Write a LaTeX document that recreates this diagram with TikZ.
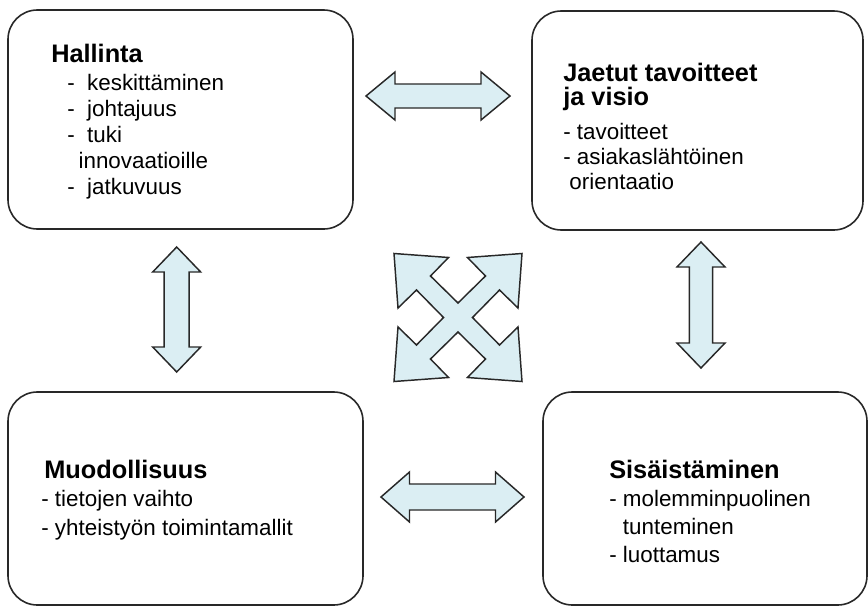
\documentclass[tikz,border=0pt]{standalone}
\usepackage{fontspec}
\setmainfont{Liberation Sans}
\definecolor{arrfill}{RGB}{219,238,243}
\definecolor{edge}{RGB}{40,40,40}
\newcommand\hd{\fontsize{19}{19}\selectfont\bfseries}
\tikzset{
  roundbox/.style={draw=edge, line width=1.2pt, rounded corners=22pt, inner sep=0pt},
  txt/.style={anchor=base west, inner sep=0pt, text=black, font=\fontsize{16.8}{20}\selectfont},
  blockarrow/.style={draw=edge, fill=arrfill, line width=1.1pt, line join=miter},
  pics/dbl/.style n args={4}{code={
    \draw[blockarrow] (-#1,0) -- ({-#1+#2},#3) -- ({-#1+#2},#4) -- ({#1-#2},#4) -- ({#1-#2},#3)
      -- (#1,0) -- ({#1-#2},-#3) -- ({#1-#2},-#4) -- ({-#1+#2},-#4) -- ({-#1+#2},-#3) -- cycle;
  }},
  pics/cross/.style={code={
    \draw[blockarrow] (0,-14.5) -- (-27.5,-41.5) -- (-9.5,-60) -- (-64,-64) -- (-60,-9.5) -- (-41.5,-27.5)
      -- (-14.5,0) -- (-41.5,27.5) -- (-60,9.5) -- (-64,64) -- (-9.5,60) -- (-27.5,41.5)
      -- (0,14.5) -- (27.5,41.5) -- (9.5,60) -- (64,64) -- (60,9.5) -- (41.5,27.5)
      -- (14.5,0) -- (41.5,-27.5) -- (60,-9.5) -- (64,-64) -- (9.5,-60) -- (27.5,-41.5) -- cycle;
  }}
}
\begin{document}
\begin{tikzpicture}[x=0.75pt,y=-0.75pt]
\useasboundingbox (0,0) rectangle (868,607);
% boxes
\node[roundbox, minimum width=258.75pt, minimum height=164.25pt] (hal) at (180.5,119.5) {};
\node[roundbox, minimum width=248.25pt, minimum height=164.25pt] (jae) at (697.5,120.5) {};
\node[roundbox, minimum width=266.25pt, minimum height=159.75pt] (muo) at (185.5,498.5) {};
\node[roundbox, minimum width=243pt, minimum height=159.75pt] (sis) at (705,498.5) {};
% texts
\node[txt] (halt) at (51,62) {\vtop{\baselineskip=19.5pt
  \hbox{\hd Hallinta}\vskip 1.9pt
  \hbox{\hspace*{12pt}-\ \ keskittäminen}
  \hbox{\hspace*{12pt}-\ \ johtajuus}
  \hbox{\hspace*{12pt}-\ \ tuki}
  \hbox{\hspace*{20.5pt}innovaatioille}
  \hbox{\hspace*{12pt}-\ \ jatkuvuus}}};
\node[txt] (jaet) at (563,81) {\vtop{\baselineskip=18.75pt
  \hbox{\hd Jaetut tavoitteet}\vskip -0.5pt
  \hbox{\hd ja visio}\vskip 7.2pt
  \hbox{- tavoitteet}
  \hbox{- asiakaslähtöinen}
  \hbox{\ orientaatio}}};
\node[txt] (muot) at (44,478) {\vtop{\baselineskip=20.6pt
  \hbox{\hd Muodollisuus}\vskip 1pt
  \hbox{\hspace*{-2.2pt}- tietojen vaihto}\vskip 1pt
  \hbox{\hspace*{-2.2pt}- yhteistyön toimintamallit}}};
\node[txt] (sist) at (609,478) {\vtop{\baselineskip=21.2pt
  \hbox{\hd Sisäistäminen}
  \hbox{- molemminpuolinen}
  \hbox{\hphantom{-\ }tunteminen}
  \hbox{- luottamus}}};
% block arrows
\pic at (438,96) {dbl={72}{29}{24}{12}};
\pic at (452.5,497) {dbl={71.5}{28.5}{25}{13}};
\pic[rotate=90] at (176.7,309.5) {dbl={62.5}{25}{24}{12.5}};
\pic[rotate=90] at (701,305) {dbl={63}{25}{24}{11.7}};
\pic at (458,317.5) {cross};
\end{tikzpicture}
\end{document}
